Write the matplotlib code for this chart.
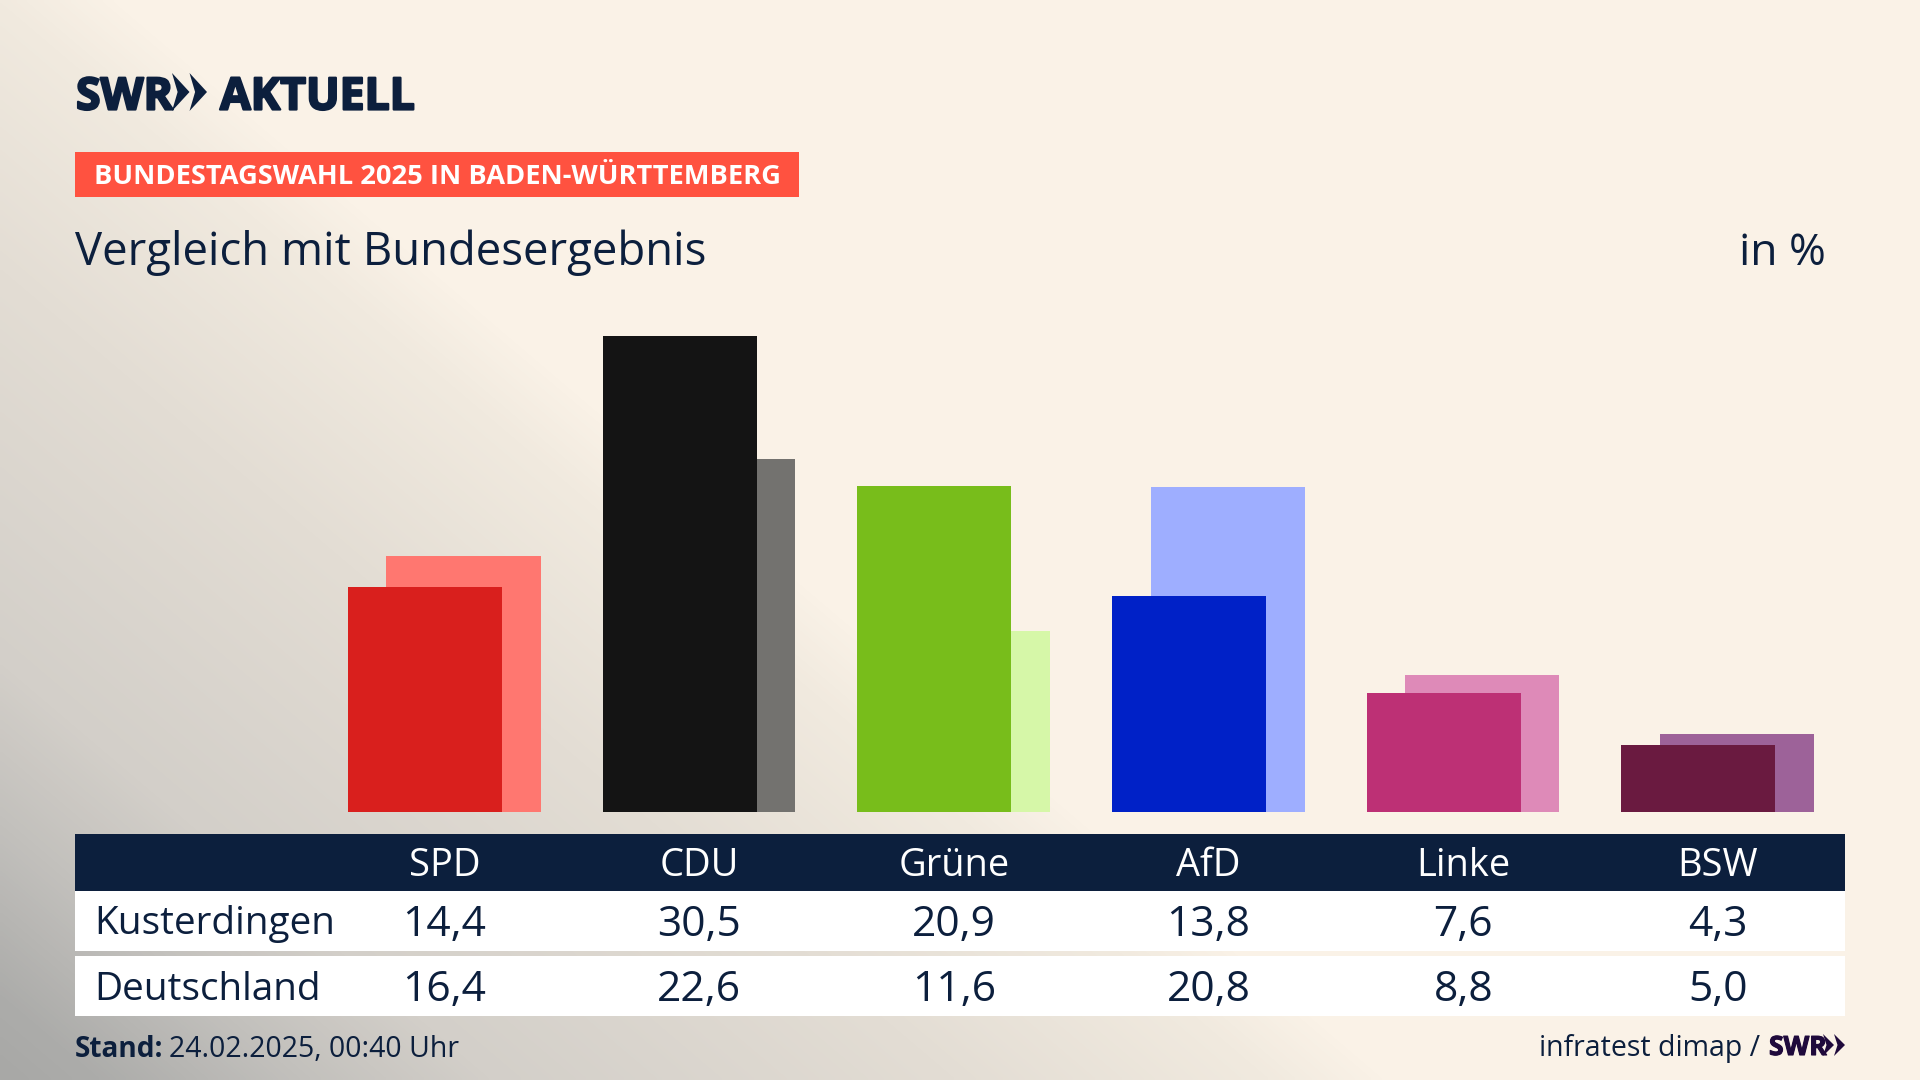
import numpy as np
import matplotlib
matplotlib.use("Agg")
import matplotlib.pyplot as plt
import matplotlib.patheffects as pe
from matplotlib.patches import Rectangle, Polygon
from matplotlib.colors import LinearSegmentedColormap

parties = ["SPD", "CDU", "Grüne", "AfD", "Linke", "BSW"]
kusterdingen = [14.4, 30.5, 20.9, 13.8, 7.6, 4.3]
deutschland = [16.4, 22.6, 11.6, 20.8, 8.8, 5.0]
front_colors = ["#d91f1d", "#141414", "#78bd1b", "#0021c7", "#bd3075", "#6a1a40"]
back_colors = ["#ff7770", "#73726f", "#d6f7a8", "#9eaeff", "#de8ab8", "#9d6299"]
row_labels = ["Kusterdingen", "Deutschland"]

NAVY = "#0c1f3d"
W, H = 1920, 1080
FONT = "Open Sans"
plt.rcParams["font.family"] = [FONT, "DejaVu Sans"]
fig = plt.figure(figsize=(19.2, 10.8), dpi=100)


def px(size):
    return size * 0.72


# background: diagonal gradient towards the lower left corner
bg = fig.add_axes([0, 0, 1, 1], zorder=0)
yy, xx = np.mgrid[0:H:270j, 0:W:480j]
s = yy - 0.85 * xx
lo, hi = -100.0, 1080.0
stops = [(-100, "#faf2e7"), (0, "#f1eadf"), (270, "#e3ddd4"), (665, "#d3cfc9"),
         (830, "#c2c0bc"), (1000, "#acacaa"), (1080, "#a8a8a6")]
cmap = LinearSegmentedColormap.from_list("bg", [((v - lo) / (hi - lo), c) for v, c in stops])
bg.imshow(np.clip((s - lo) / (hi - lo), 0, 1), cmap=cmap, vmin=0, vmax=1, extent=(0, W, H, 0),
          aspect="auto", interpolation="bilinear")
bg.set_axis_off()

# overlay in pixel coordinates
ov = fig.add_axes([0, 0, 1, 1], zorder=1)
ov.set_xlim(0, W)
ov.set_ylim(H, 0)
ov.set_axis_off()
ov.patch.set_alpha(0)

# bars
left, right, base, top_y = 317.2, 1845.3, 812.0, 812.0 - 32 * 15.62
ax = fig.add_axes([left / W, 1 - base / H, (right - left) / W, (base - top_y) / H], zorder=2)
ax.patch.set_alpha(0)
ax.set_xlim(-0.5, 5.5)
ax.set_ylim(0, 32)
ax.set_axis_off()
x = np.arange(len(parties)) - 0.001
bw, off = 0.605, 0.0756
ax.bar(x + off, deutschland, bw, color=back_colors, zorder=1)
ax.bar(x - off, kusterdingen, bw, color=front_colors, zorder=2)


def chevrons(x0, y0, y1, w, color, n=2):
    ym = (y0 + y1) / 2
    for i in range(n):
        xs = x0 + i * w
        ov.add_patch(Polygon(
            [(xs, y0), (xs + w, ym), (xs, y1), (xs + 0.32 * w, ym)],
            closed=True, fc=color, ec="none"))


heavy = [pe.withStroke(linewidth=1.6, foreground=NAVY)]
heavy_small = [pe.withStroke(linewidth=0.8, foreground="#1f0a3c")]

# logo
ov.text(76, 109.5, "SWR", fontsize=px(44.5), fontweight="bold", color=NAVY, va="baseline", ha="left",
        path_effects=heavy)
chevrons(172, 73, 111, 17.5, NAVY)
ov.text(220, 109.5, "AKTUELL", fontsize=px(44.5), fontweight="bold", color=NAVY, va="baseline", ha="left",
        path_effects=heavy)

# banner
ov.add_patch(Rectangle((75, 152), 724, 45, fc="#ff5240", ec="none"))
ov.text(94, 184, "BUNDESTAGSWAHL 2025 IN BADEN-WÜRTTEMBERG", fontsize=px(27.2), fontweight="bold",
        color="white", va="baseline", ha="left")

# title
ov.text(75, 265, "Vergleich mit Bundesergebnis", fontsize=px(45.5), color=NAVY, va="baseline", ha="left")
ov.text(1826, 265, "in %", fontsize=px(44.5), color=NAVY, va="baseline", ha="right")

# table
ov.add_patch(Rectangle((75, 834), 1770, 57, fc=NAVY, ec="none"))
ov.add_patch(Rectangle((75, 891), 1770, 60, fc="white", ec="none"))
ov.add_patch(Rectangle((75, 956), 1770, 60, fc="white", ec="none"))

centers = [left + (right - left) * (i + 0.5) / len(parties) for i in range(len(parties))]
for cx, name, a, b in zip(centers, parties, kusterdingen, deutschland):
    ov.text(cx, 876, name, fontsize=px(38), color="white", ha="center", va="baseline")
    ov.text(cx, 936, f"{a:.1f}".replace(".", ","), fontsize=px(42.5), color=NAVY, ha="center", va="baseline")
    ov.text(cx, 1001, f"{b:.1f}".replace(".", ","), fontsize=px(42.5), color=NAVY, ha="center", va="baseline")
ov.text(94, 934, row_labels[0], fontsize=px(38.8), color=NAVY, va="baseline")
ov.text(94, 1000, row_labels[1], fontsize=px(38.8), color=NAVY, va="baseline")

# footer
ov.text(75, 1057, "Stand:", fontsize=px(28), fontweight="bold", color=NAVY, va="baseline")
ov.text(169, 1057, "24.02.2025, 00:40 Uhr", fontsize=px(28.5), color=NAVY, va="baseline")
ov.text(1760, 1056, "infratest dimap /", fontsize=px(28.5), color=NAVY, va="baseline", ha="right")
ov.text(1769, 1055, "SWR", fontsize=px(26.5), fontweight="bold", color="#1f0a3c", va="baseline", ha="left",
        path_effects=heavy_small)
chevrons(1823, 1034, 1056, 11, "#1f0a3c")

fig.savefig("out.png", dpi=100)
